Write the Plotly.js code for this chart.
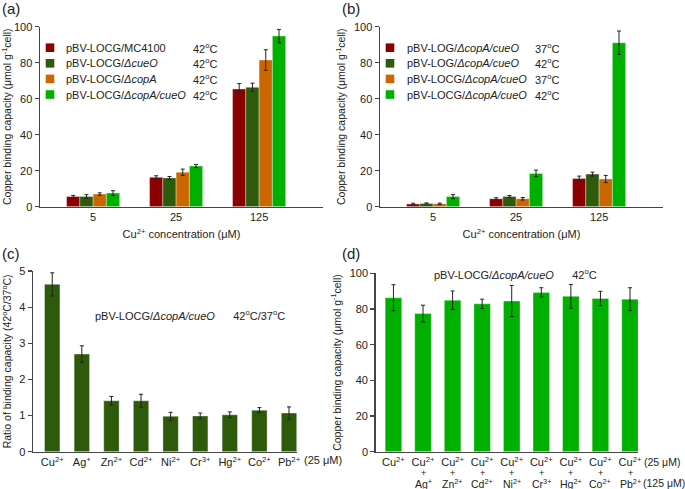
<!DOCTYPE html>
<html><head><meta charset="utf-8">
<script src="https://cdn.plot.ly/plotly-3.0.1.min.js"></script>
<style>body{margin:0;padding:0;background:#fff}#chart{width:685px;height:489px}</style>
</head><body><div id="chart"></div>
<script>
// ---------- data ----------
const concLabels = ['5', '25', '125'];

const seriesA = ['pBV-LOCG/MC4100', 'pBV-LOCG/<i>ΔcueO</i>', 'pBV-LOCG/<i>ΔcopA</i>', 'pBV-LOCG/<i>ΔcopA/cueO</i>'];
const tempsA = ['42<sup>o</sup>C', '42<sup>o</sup>C', '42<sup>o</sup>C', '42<sup>o</sup>C'];
const mc4100 = [5.7, 16.3, 65.4];
const mc4100Err = [0.6, 0.9, 3.0];
const cueO = [5.7, 16.0, 66.3];
const cueOErr = [1.0, 0.8, 2.3];
const copA = [7.0, 19.1, 81.5];
const copAErr = [0.7, 1.8, 5.7];
const copAcueO = [7.6, 22.6, 94.8];
const copAcueOErr = [1.3, 0.9, 3.7];

const seriesB = ['pBV-LOG/<i>ΔcopA/cueO</i>', 'pBV-LOG/<i>ΔcopA/cueO</i>', 'pBV-LOCG/<i>ΔcopA/cueO</i>', 'pBV-LOCG/<i>ΔcopA/cueO</i>'];
const tempsB = ['37<sup>o</sup>C', '42<sup>o</sup>C', '37<sup>o</sup>C', '42<sup>o</sup>C'];
const log37 = [1.5, 4.4, 15.7];
const log37Err = [0.4, 0.6, 1.3];
const log42 = [1.8, 5.6, 18.1];
const log42Err = [0.3, 0.6, 1.1];
const locg37 = [1.6, 4.4, 15.4];
const locg37Err = [0.4, 0.7, 2.0];
const locg42 = [5.6, 18.5, 91.1];
const locg42Err = [1.1, 1.8, 6.5];

const ionsC = ['Cu<sup>2+</sup>', 'Ag<sup>+</sup>', 'Zn<sup>2+</sup>', 'Cd<sup>2+</sup>', 'Ni<sup>2+</sup>', 'Cr<sup>3+</sup>', 'Hg<sup>2+</sup>', 'Co<sup>2+</sup>', 'Pb<sup>2+</sup>'];
const ratioC = [4.63, 2.70, 1.41, 1.41, 0.98, 0.99, 1.02, 1.15, 1.07];
const ratioCErr = [0.32, 0.23, 0.12, 0.18, 0.11, 0.08, 0.08, 0.07, 0.17];

const mixD = ['Cu', 'Cu+Ag', 'Cu+Zn', 'Cu+Cd', 'Cu+Ni', 'Cu+Cr', 'Cu+Hg', 'Cu+Co', 'Cu+Pb'];
const baseIonD = ['Cu<sup>2+</sup>', 'Cu<sup>2+</sup>', 'Cu<sup>2+</sup>', 'Cu<sup>2+</sup>', 'Cu<sup>2+</sup>', 'Cu<sup>2+</sup>', 'Cu<sup>2+</sup>', 'Cu<sup>2+</sup>', 'Cu<sup>2+</sup>'];
const addedIonD = ['', 'Ag<sup>+</sup>', 'Zn<sup>2+</sup>', 'Cd<sup>2+</sup>', 'Ni<sup>2+</sup>', 'Cr<sup>3+</sup>', 'Hg<sup>2+</sup>', 'Co<sup>2+</sup>', 'Pb<sup>2+</sup>'];
const capD = [86.3, 77.4, 84.9, 82.9, 84.5, 89.3, 87.1, 85.9, 85.5];
const capDErr = [7.3, 4.7, 5.2, 2.6, 8.7, 2.6, 6.7, 4.0, 6.4];

const colors4 = ['#8b0000', '#2e5a0c', '#cc6600', '#00b000'];
const colorC = '#2e5a0c';
const colorD = '#00b000';

// ---------- helpers ----------
const W = 685, H = 489;
const px = x => x / W;
const py = y => 1 - y / H;
const FONT = 'Arial, "Liberation Sans", sans-serif';
const TXT = '#222';

function errBar(arr) {
  return {type: 'data', array: arr, visible: true, color: '#222', thickness: 1, width: 2};
}
function barTrace(x, y, err, color, xa, ya, width) {
  const t = {type: 'bar', x: x, y: y, error_y: errBar(err), xaxis: xa, yaxis: ya,
    marker: {color: color, line: {width: 1, color: 'rgba(255,255,255,0.35)'}}, showlegend: false, hoverinfo: 'skip'};
  if (width) t.width = width;
  return t;
}

const groupA = [[mc4100, mc4100Err], [cueO, cueOErr], [copA, copAErr], [copAcueO, copAcueOErr]];
const groupB = [[log37, log37Err], [log42, log42Err], [locg37, locg37Err], [locg42, locg42Err]];

const data = [];
groupA.forEach((g, i) => data.push(barTrace(concLabels, g[0], g[1], colors4[i], 'x', 'y')));
groupB.forEach((g, i) => data.push(barTrace(concLabels, g[0], g[1], colors4[i], 'x2', 'y2')));
data.push(barTrace(ionsC, ratioC, ratioCErr, colorC, 'x3', 'y3', 0.52));
data.push(barTrace(mixD, capD, capDErr, colorD, 'x4', 'y4', 0.56));

function yAxis(domain, range, dtick, anchor, title) {
  return {domain: domain, range: range, dtick: dtick, anchor: anchor, showgrid: false, zeroline: false,
    showline: true, linecolor: '#444', linewidth: 1.5, ticks: 'outside', ticklen: 4, tickwidth: 1.2, tickcolor: '#444',
    tickfont: {size: 11, color: TXT, family: FONT}, fixedrange: true,
    title: {text: title, font: {size: 10.5, color: TXT, family: FONT}, standoff: 6}};
}
function xAxis(domain, range, anchor, extra) {
  return Object.assign({domain: domain, range: range, anchor: anchor, type: 'category', showgrid: false, zeroline: false,
    showline: true, linecolor: '#444', linewidth: 1.5, ticks: '', tickfont: {size: 11, color: TXT, family: FONT}, fixedrange: true}, extra || {});
}

const capTitle = 'Copper binding capacity (μmol g<sup>-1</sup>cell)';
const concTitle = {text: 'Cu<sup>2+</sup> concentration (μM)', font: {size: 11, color: TXT, family: FONT}, standoff: 8};

const layout = {
  width: W, height: H, margin: {l: 0, r: 0, t: 0, b: 0}, paper_bgcolor: '#fff', plot_bgcolor: 'rgba(0,0,0,0)',
  font: {family: FONT, color: TXT}, barmode: 'group', bargap: 0.36, bargroupgap: 0, showlegend: false,
  xaxis: xAxis([px(40), px(323)], [-0.64, 2.77], 'y', {title: concTitle}),
  yaxis: yAxis([py(206.7), py(26.7)], [0, 100], 20, 'x', capTitle),
  xaxis2: xAxis([px(380), px(663)], [-0.64, 2.77], 'y2', {title: concTitle}),
  yaxis2: yAxis([py(206.7), py(26.7)], [0, 100], 20, 'x2', capTitle),
  xaxis3: xAxis([px(33), px(297)], [-0.65, 8.27], 'y3', {tickvals: ionsC, ticktext: ionsC}),
  yaxis3: yAxis([py(451.7), py(271)], [0, 5], 1, 'x3', 'Ratio of binding capacity (42<sup>o</sup>C/37<sup>o</sup>C)'),
  xaxis4: xAxis([px(375.7), px(638)], [-0.6, 8.27], 'y4', {tickvals: mixD, ticktext: baseIonD, ticklabelstandoff: 0}),
  yaxis4: yAxis([py(451.7), py(273.3)], [0, 100], 20, 'x4', capTitle),
  annotations: [], shapes: []
};

function note(text, x, y, xanchor, size) {
  layout.annotations.push({text: text, xref: 'paper', yref: 'paper', x: px(x), y: py(y), xanchor: xanchor || 'left', yanchor: 'middle',
    showarrow: false, font: {size: size || 11, color: TXT, family: FONT}});
}
// panel letters
note('(a)', 0, 8, 'left', 15);
note('(b)', 340, 8, 'left', 15);
note('(c)', 0, 253, 'left', 15);
note('(d)', 340, 253, 'left', 15);

// manual legends
function legend(names, temps, sqX, txtX, tX) {
  names.forEach((n, i) => {
    const yc = 47.7 + 15.6 * i;
    layout.shapes.push({type: 'rect', xref: 'paper', yref: 'paper', x0: px(sqX), x1: px(sqX + 8.6), y0: py(yc + 4.3), y1: py(yc - 4.3),
      fillcolor: colors4[i], line: {width: 0}});
    note(n, txtX, yc, 'left', 11);
    note(temps[i], tX, yc, 'left', 11);
  });
}
legend(seriesA, tempsA, 45.7, 64, 190.5);
legend(seriesB, tempsB, 385.7, 404.5, 532.5);

// second/third label lines of panel (d), placed on the category scale
mixD.forEach((m, i) => {
  if (!addedIonD[i]) return;
  layout.annotations.push({text: '+', xref: 'x4', yref: 'paper', x: m, y: py(472.5), xanchor: 'center', yanchor: 'middle',
    showarrow: false, borderpad: 0, font: {size: 9, color: TXT, family: FONT}});
  layout.annotations.push({text: addedIonD[i], xref: 'x4', yref: 'paper', x: m, y: py(483), xanchor: 'center', yanchor: 'middle',
    showarrow: false, borderpad: 0, font: {size: 10.5, color: TXT, family: FONT}});
});

// in-panel notes
note('pBV-LOCG/<i>ΔcopA/cueO</i>      42<sup>o</sup>C/37<sup>o</sup>C', 93, 315, 'left', 11);
note('pBV-LOCG/<i>ΔcopA/cueO</i>      42<sup>o</sup>C', 432, 274, 'left', 11);
note('(25 μM)', 302, 460, 'left', 11);
note('(25 μM)', 642, 462, 'left', 10.5);
note('(125 μM)', 641, 483, 'left', 10.5);

Plotly.newPlot('chart', data, layout, {staticPlot: true});
</script></body></html>
